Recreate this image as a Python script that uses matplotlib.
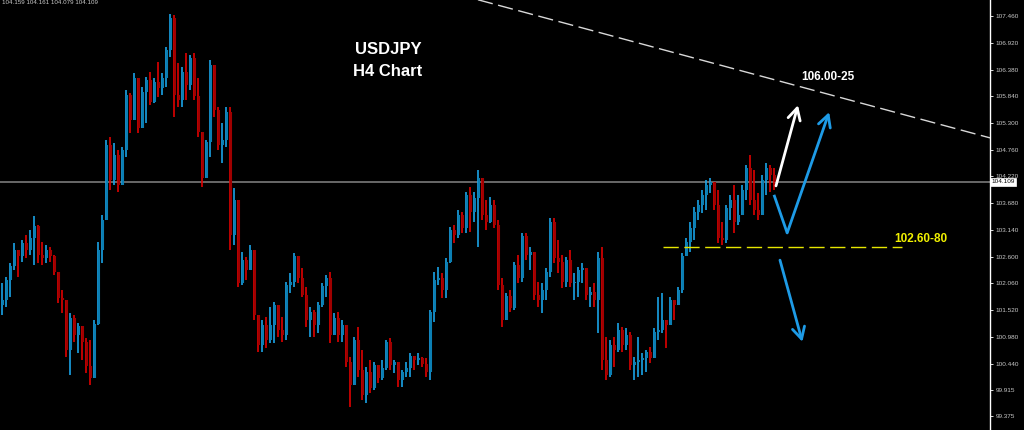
"""
USDJPY H4 chart with trade scenario arrows, MT4 style (black background).
"""
import matplotlib
matplotlib.use("Agg")
import matplotlib.pyplot as plt
import matplotlib.transforms as mtransforms

# ── DATA — candle prices (oldest → newest) ────────────────────────────────────
first_open = 101.62

highs = [
    102.07, 102.19, 102.47, 102.88, 102.74, 102.94, 103.04, 103.14, 103.42, 103.24,
    102.90, 102.84, 102.80, 102.64, 102.27, 101.93, 101.73, 101.46, 101.42, 101.26,
    101.02, 100.96, 100.92, 101.32, 102.90, 103.44, 104.96, 105.02, 104.90, 104.75,
    104.82, 105.97, 105.91, 106.31, 106.03, 106.03, 106.23, 106.33, 106.21, 106.53,
    106.31, 106.84, 107.50, 107.48, 106.51, 106.43, 106.71, 106.67, 106.71, 106.21,
    105.10, 104.96, 106.57, 106.07, 105.62, 105.30, 105.62, 105.62, 103.99, 103.08,
    102.70, 102.60, 102.84, 102.57, 101.38, 101.32, 101.38, 101.58, 101.69, 101.48,
    101.38, 102.09, 102.27, 102.68, 102.53, 102.37, 101.99, 101.58, 101.52, 101.69,
    102.07, 102.23, 102.29, 101.46, 101.48, 101.32, 101.08, 100.58, 100.98, 101.18,
    100.72, 100.37, 100.51, 100.47, 100.41, 100.51, 100.92, 100.96, 100.51, 100.45,
    100.31, 100.47, 100.66, 100.58, 100.66, 100.58, 100.55, 101.52, 102.29, 102.39,
    102.27, 102.57, 103.20, 103.24, 103.54, 103.50, 103.91, 104.01, 103.91, 104.35,
    104.15, 103.75, 103.81, 103.75, 103.34, 102.17, 101.87, 101.93, 102.49, 102.64,
    103.08, 103.08, 102.80, 102.68, 102.09, 102.07, 102.37, 103.38, 103.38, 102.94,
    102.64, 102.60, 102.74, 102.27, 102.39, 102.47, 102.29, 101.99, 102.07, 102.70,
    102.80, 100.98, 100.92, 100.98, 101.26, 101.18, 101.16, 101.08, 100.58, 100.98,
    100.66, 100.72, 100.78, 101.16, 101.79, 101.87, 101.32, 101.79, 101.73, 101.99,
    102.68, 102.98, 103.30, 103.60, 103.75, 103.95, 104.15, 104.19, 103.95, 103.95,
    103.30, 103.64, 103.85, 104.05, 103.85, 104.05, 104.45, 104.65, 104.35, 103.89,
    104.25, 104.49, 104.45, 104.39,
]

lows = [
    101.42, 101.58, 101.79, 102.33, 102.19, 102.49, 102.57, 102.64, 102.43, 102.47,
    102.43, 102.47, 102.49, 102.23, 101.66, 101.46, 100.58, 100.21, 100.88, 100.66,
    100.51, 100.25, 100.01, 100.51, 101.22, 102.47, 103.34, 103.95, 104.05, 103.91,
    104.05, 104.61, 105.10, 105.42, 105.10, 105.30, 105.30, 105.66, 105.70, 105.83,
    105.87, 106.03, 106.63, 105.42, 105.62, 105.62, 105.77, 105.97, 105.77, 105.02,
    104.01, 104.21, 104.61, 105.42, 104.75, 104.49, 104.82, 102.74, 102.84, 101.99,
    102.03, 102.13, 102.33, 101.32, 100.68, 100.68, 100.76, 100.86, 100.86, 100.98,
    100.88, 100.92, 101.87, 101.99, 102.07, 101.79, 101.18, 100.98, 100.98, 101.06,
    101.58, 101.79, 100.86, 101.02, 100.88, 100.88, 100.37, 99.56, 100.45, 100.17,
    99.71, 99.65, 99.85, 99.91, 100.05, 100.11, 100.31, 100.31, 100.25, 99.97,
    99.97, 100.17, 100.17, 100.31, 100.41, 100.37, 100.17, 100.11, 101.28, 102.03,
    101.77, 101.77, 102.47, 102.88, 102.98, 103.08, 103.08, 103.10, 103.30, 102.80,
    103.34, 103.14, 103.28, 103.18, 101.93, 101.18, 101.32, 101.48, 101.52, 102.07,
    102.09, 102.53, 102.33, 101.73, 101.58, 101.46, 101.73, 102.19, 102.47, 102.27,
    101.97, 101.99, 101.99, 101.73, 101.79, 102.07, 101.73, 101.58, 101.58, 101.06,
    100.31, 100.11, 100.17, 100.37, 100.68, 100.68, 100.72, 100.31, 100.11, 100.17,
    100.21, 100.27, 100.45, 100.66, 100.92, 101.06, 100.76, 101.22, 101.32, 101.66,
    101.87, 102.64, 102.70, 102.94, 103.34, 103.48, 103.54, 103.89, 103.54, 102.88,
    102.84, 102.88, 103.34, 103.08, 103.24, 103.44, 103.75, 103.64, 103.44, 103.34,
    103.54, 103.85, 103.91, 103.95,
]

closes = [
    101.73, 102.13, 102.41, 102.74, 102.61, 102.88, 102.74, 102.98, 103.22, 102.64,
    102.57, 102.74, 102.61, 102.29, 101.77, 101.73, 100.72, 101.36, 101.02, 101.20,
    100.88, 100.39, 100.15, 101.24, 102.74, 103.34, 104.86, 104.15, 104.65, 104.05,
    104.75, 105.87, 105.36, 106.21, 105.20, 105.93, 106.17, 105.72, 106.13, 106.01,
    106.21, 106.78, 107.42, 105.87, 105.77, 106.33, 106.07, 106.61, 105.85, 105.12,
    104.19, 104.92, 106.47, 105.56, 104.86, 104.96, 105.52, 103.04, 103.75, 102.07,
    102.53, 102.33, 102.74, 101.42, 100.82, 101.22, 100.92, 101.22, 101.62, 101.12,
    101.02, 102.03, 102.09, 102.61, 102.17, 101.83, 101.32, 101.48, 101.22, 101.62,
    102.01, 102.17, 101.02, 101.36, 101.02, 101.22, 100.47, 100.01, 100.92, 100.31,
    99.81, 100.27, 99.95, 100.41, 100.15, 100.35, 100.88, 100.41, 100.47, 100.11,
    100.27, 100.35, 100.60, 100.51, 100.55, 100.43, 100.27, 101.48, 102.13, 102.17,
    101.93, 102.49, 103.14, 103.04, 103.44, 103.18, 103.85, 103.50, 103.79, 104.19,
    103.44, 103.30, 103.64, 103.24, 102.03, 101.32, 101.81, 101.56, 102.43, 102.17,
    103.02, 102.64, 102.70, 101.83, 101.73, 101.93, 102.29, 103.30, 102.57, 102.49,
    102.09, 102.53, 102.07, 102.09, 102.33, 102.37, 101.83, 101.89, 101.73, 102.57,
    100.51, 100.21, 100.82, 100.72, 101.12, 100.82, 101.02, 100.41, 100.47, 100.51,
    100.55, 100.68, 100.55, 101.08, 101.12, 101.32, 101.22, 101.73, 101.62, 101.93,
    102.61, 102.90, 103.18, 103.50, 103.64, 103.85, 104.05, 104.11, 103.64, 102.98,
    102.94, 103.58, 103.75, 103.30, 103.44, 103.95, 104.39, 103.75, 103.54, 103.44,
    104.15, 104.39, 104.25, 104.11,
]

last_price    = 104.109
support_level = 102.80          # yellow dashed line
header_text   = "104.159 104.161 104.079 104.109"

price_ticks = [107.460, 106.920, 106.380, 105.840, 105.300, 104.760, 104.220, 103.680,
               103.140, 102.600, 102.060, 101.520, 100.980, 100.440, 99.915, 99.375]
tick_labels = ["107.460", "106.920", "106.380", "105.840", "105.300", "104.760", "104.220",
               "103.680", "103.140", "102.600", "102.060", "101.520", "100.980", "100.440",
               "99.915", "99.375"]

# trend line and scenario arrows, in (bar index, price)
trend_x = [119.1, 247.1]
trend_y = [107.79, 105.00]

up_white   = [(193.6, 104.03), (199.1, 105.66)]
up_blue    = [(193.1, 103.85), (196.4, 103.08), (206.9, 105.52)]
down_blue  = [(194.6, 102.53), (200.2, 100.88)]
support_x  = [165.4, 225.1]

# ── STYLE ─────────────────────────────────────────────────────────────────────
BG        = "black"
UP_BODY   = "#0b7fb3"
UP_WICK   = "#1aa3e6"
DN_BODY   = "#a00000"
DN_WICK   = "#e00000"
ARROW_BLU = "#1e9be6"
FONT      = "Liberation Sans"

fig = plt.figure(figsize=(10.24, 4.30), dpi=100, facecolor=BG)
ax = fig.add_axes([0, 0, 990 / 1024, 1])
ax.set_facecolor(BG)

# ── candles ───────────────────────────────────────────────────────────────────
opens = [first_open] + closes[:-1]
for i, (o, h, l, c) in enumerate(zip(opens, highs, lows, closes)):
    up = c >= o
    hi = max(h, o, c)
    lo = min(l, o, c)
    ax.vlines(i, lo, hi, color=UP_WICK if up else DN_WICK, lw=1.2, zorder=3)
    ax.vlines(i + 0.35, min(o, c), max(o, c), color=UP_BODY if up else DN_BODY,
              lw=1.5, zorder=3)

# ── lines ─────────────────────────────────────────────────────────────────────
ax.axhline(last_price, color="#7a7a7a", lw=1.2, zorder=2)
ax.plot(trend_x, trend_y, color="#d8d8d8", lw=1.0, dashes=(11, 4), zorder=2)
ax.plot(support_x, [support_level] * 2, color="#e6e600", lw=1.0, dashes=(11, 4), zorder=4)

# ── arrows ────────────────────────────────────────────────────────────────────
def arrow(points, color):
    xs, ys = zip(*points)
    if len(points) > 2:
        ax.plot(xs[:-1], ys[:-1], color=color, lw=2.0, solid_capstyle="butt", zorder=5)
    ax.annotate("", xy=points[-1], xytext=points[-2],
                arrowprops=dict(arrowstyle="->,head_length=0.6,head_width=0.32",
                                color=color, lw=2.0, shrinkA=0, shrinkB=0,
                                mutation_scale=14),
                zorder=5)

arrow(up_white, "white")
arrow(up_blue, ARROW_BLU)
arrow(down_blue, ARROW_BLU)

# ── texts ─────────────────────────────────────────────────────────────────────
ax.text(96.6, 106.78, "USDJPY", color="white", fontsize=12, fontweight="bold",
        family=FONT, ha="center", va="center", zorder=6)
ax.text(96.6, 106.34, "H4 Chart", color="white", fontsize=12, fontweight="bold",
        family=FONT, ha="center", va="center", zorder=6)
ax.text(206.5, 106.23, "106.00-25", color="white", fontsize=8.5, fontweight="bold",
        family=FONT, ha="center", va="center", zorder=6)
ax.text(229.8, 102.96, "102.60-80", color="#f0f000", fontsize=8.5, fontweight="bold",
        family=FONT, ha="center", va="center", zorder=6)
ax.text(0.0, 107.78, header_text, color="#c8c8c8", fontsize=4.5, family=FONT,
        ha="left", va="top", zorder=6)

# ── axes ──────────────────────────────────────────────────────────────────────
ax.set_xlim(-0.375, 247.1)
ax.set_ylim(99.099, 107.785)
for side in ["left", "top", "bottom"]:
    ax.spines[side].set_visible(False)
ax.spines["right"].set_color("white")
ax.spines["right"].set_linewidth(1.0)
ax.set_xticks([])
ax.yaxis.tick_right()
ax.set_yticks(price_ticks)
ax.set_yticklabels(tick_labels)
ax.tick_params(axis="y", colors="white", labelcolor="#c8c8c8", length=2.5, width=0.6,
               labelsize=4.6, pad=1.5)
for lab in ax.get_yticklabels():
    lab.set_family(FONT)

trans = mtransforms.blended_transform_factory(ax.transAxes, ax.transData)
ax.text(1.0015, last_price, "104.109", transform=trans, color="black", fontsize=4.6,
        family=FONT, ha="left", va="center", zorder=7, clip_on=False,
        bbox=dict(boxstyle="square,pad=0.25", fc="white", ec="white", lw=0.5))

fig.savefig("out.png", dpi=100, facecolor=BG)
